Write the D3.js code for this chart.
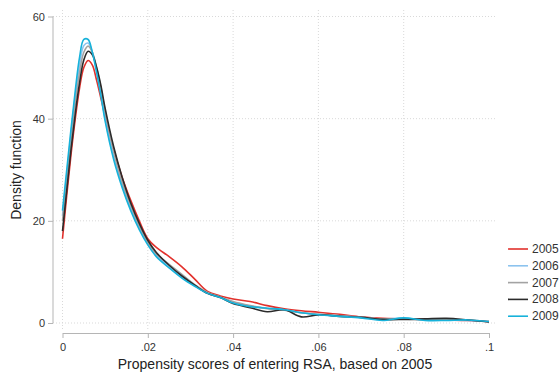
<!DOCTYPE html>
<html>
<head>
<meta charset="utf-8">
<script src="https://cdn.jsdelivr.net/npm/d3@7"></script>
<style>
  body { margin: 0; background: #fff; }
  svg { font-family: "Liberation Sans", Arial, sans-serif; }
</style>
</head>
<body>
<svg id="chart" width="560" height="376"></svg>
<script>
// propensity score grid (x positions of the density estimates)
const xs = [0, .001, .002, .003, .004, .005, .006, .007, .008, .009, .010, .012, .014, .016, .018,
    .020, .022, .025, .028, .031, .034, .037, .040, .044, .048, .052, .056, .060, .065, .070,
    .075, .080, .085, .090, .095, .100];

const years = ['2005', '2006', '2007', '2008', '2009'];
const colors = ['#e2312c', '#8cc3ee', '#a3a3a3', '#2b2b2b', '#17b2da'];

const d2005 = [16.5, 25, 33, 40, 46, 50, 51.4, 50.5, 47.5, 44, 40.5, 34, 28.5, 24, 20,
    16.5, 14.8, 13, 11, 8.6, 6.2, 5.3, 4.7, 4.2, 3.4, 2.8, 2.4, 2.1, 1.7, 1.2,
    0.9, 0.8, 0.7, 0.6, 0.5, 0.3];
const d2006 = [21, 29, 37, 44.5, 50.5, 54.3, 54.8, 53, 49.5, 45, 40, 32.5, 27, 22.5, 18.7,
    15.5, 13.3, 11, 9, 7.3, 5.8, 5, 4, 3.3, 2.9, 2.6, 2.0, 1.7, 1.4, 1.1,
    0.8, 0.9, 0.6, 0.6, 0.5, 0.3];
const d2007 = [20, 28, 36, 43, 49, 53, 54.2, 53, 50, 46, 41.5, 33.5, 27.5, 23, 19,
    15.8, 13.5, 11.5, 9.5, 7.5, 6, 5.1, 4.2, 3.4, 2.8, 2.5, 2, 1.7, 1.4, 1.1,
    0.8, 0.8, 0.6, 0.7, 0.6, 0.3];
const d2008 = [18, 26, 34, 41, 47, 51.5, 53.2, 52.5, 50, 46.5, 42, 34.5, 28.5, 23.5, 19.5,
    16.2, 13.8, 11.3, 9.2, 7.4, 5.8, 5, 3.8, 3, 2.2, 2.6, 1.2, 1.6, 1.3, 1.1,
    0.7, 0.7, 0.8, 0.9, 0.6, 0.2];
const d2009 = [22, 30, 38, 45.5, 52, 55.5, 55.5, 53, 49, 44.5, 39.5, 32, 26.5, 22, 18.3,
    15.3, 13, 10.8, 8.8, 7.2, 5.8, 5, 3.9, 3.2, 2.9, 2.6, 2, 1.6, 1.3, 1.0,
    0.5, 1.0, 0.5, 0.5, 0.6, 0.3];

const xTicks = [0, .02, .04, .06, .08, .1];
const yTicks = [0, 20, 40, 60];

const series = [d2005, d2006, d2007, d2008, d2009];

const svg = d3.select('#chart');
const x = d3.scaleLinear().domain([0, .1]).range([62.5, 489]);
const y = d3.scaleLinear().domain([0, 60]).range([323, 16.5]);

const fmtX = d => d === 0 ? '0' : String(d).replace(/^0/, '');

// grid
const grid = svg.append('g')
    .attr('stroke', '#d9d9d9')
    .attr('stroke-width', 1)
    .attr('stroke-dasharray', '1,2');
yTicks.forEach(t => {
    grid.append('line')
        .attr('x1', 53).attr('x2', 497)
        .attr('y1', y(t)).attr('y2', y(t));
});
xTicks.slice(0, -1).forEach(t => {
    grid.append('line')
        .attr('x1', x(t)).attr('x2', x(t))
        .attr('y1', 10).attr('y2', 330);
});

// axes
const yAxis = svg.append('g')
    .attr('transform', 'translate(53,0)')
    .call(d3.axisLeft(y).tickValues(yTicks).tickSize(5).tickSizeOuter(0).tickPadding(3));
const xAxis = svg.append('g')
    .attr('transform', 'translate(0,333)')
    .call(d3.axisBottom(x).tickValues(xTicks).tickFormat(fmtX).tickSize(5).tickSizeOuter(0).tickPadding(5));
[yAxis, xAxis].forEach(a => {
    a.selectAll('path, line').attr('stroke', '#b5b5b5');
    a.selectAll('text').attr('fill', '#333').style('font-size', '11px');
});
yAxis.select('.domain').attr('d', `M0,${y(60)}V${y(0)}`);

// density curves
const line = d3.line()
    .x((d, i) => x(xs[i]))
    .y(d => y(d))
    .curve(d3.curveCatmullRom);
series.forEach((s, i) => {
    svg.append('path')
        .datum(s)
        .attr('fill', 'none')
        .attr('stroke', colors[i])
        .attr('stroke-width', 1.6)
        .attr('d', line);
});

// titles
svg.append('text')
    .attr('x', 275).attr('y', 369)
    .attr('text-anchor', 'middle')
    .attr('fill', '#222')
    .style('font-size', '14px')
    .text('Propensity scores of entering RSA, based on 2005');
svg.append('text')
    .attr('transform', 'translate(21,170) rotate(-90)')
    .attr('text-anchor', 'middle')
    .attr('fill', '#222')
    .style('font-size', '14px')
    .text('Density function');

// legend
const legend = svg.append('g');
years.forEach((yr, i) => {
    const ly = 249 + i * 16.8;
    legend.append('line')
        .attr('x1', 508).attr('x2', 528)
        .attr('y1', ly).attr('y2', ly)
        .attr('stroke', colors[i]).attr('stroke-width', 1.6);
    legend.append('text')
        .attr('x', 532).attr('y', ly + 4)
        .attr('fill', '#333')
        .style('font-size', '12px')
        .text(yr);
});
</script>
</body>
</html>
